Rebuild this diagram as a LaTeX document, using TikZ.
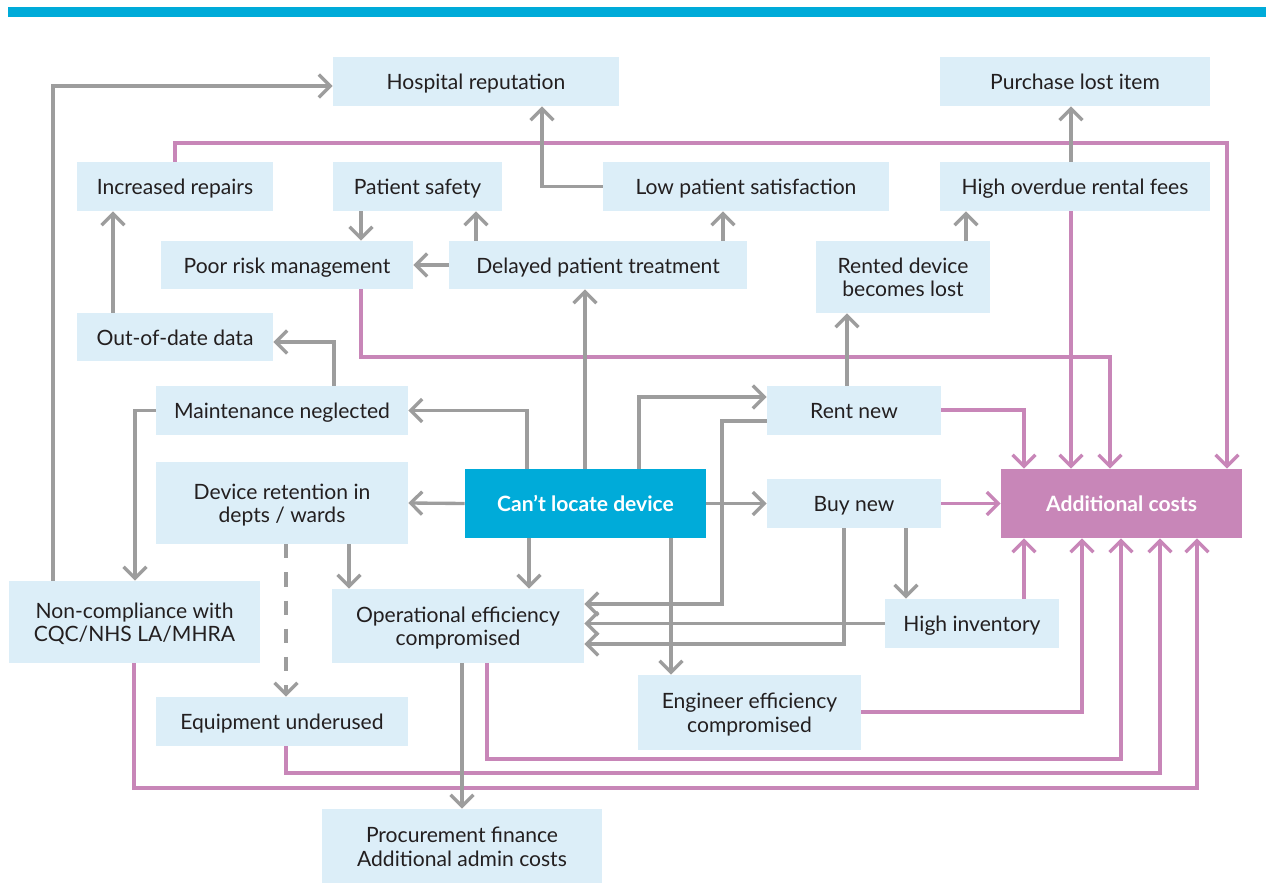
\documentclass[tikz,border=0pt]{standalone}
\usepackage{fontspec}
\setmainfont{Lato}
\usetikzlibrary{arrows.meta}
\definecolor{boxfill}{HTML}{DCEEF8}
\definecolor{cyanb}{HTML}{00ABD9}
\definecolor{pinkc}{HTML}{C886B8}
\definecolor{grayc}{HTML}{9D9D9D}
\definecolor{txt}{HTML}{231F20}
\newcommand\tx[1]{\raisebox{-2pt}[\height][\depth]{\begin{tabular}{@{}c@{}}#1\end{tabular}}}
\begin{document}
\begin{tikzpicture}[x=0.02cm,y=-0.02cm,
  box/.style={fill=boxfill, draw=none, inner sep=0pt, text=txt,
    font=\fontsize{12}{13.4}\selectfont},
  sz/.style 2 args={minimum width=#1*0.02cm, minimum height=#2*0.02cm},
  keybox/.style={box, text=white, font=\fontsize{12}{13.4}\selectfont\bfseries},
  gl/.style={draw=grayc, line width=1.9pt},
  ga/.style={gl, -{Straight Barb[length=6.5pt,width=13pt]}},
  pl/.style={draw=pinkc, line width=1.9pt},
  pa/.style={pl, -{Straight Barb[length=6.5pt,width=13pt]}}]
\useasboundingbox (0,0) rectangle (1266,884);
\fill[cyanb] (8,7) rectangle (1266,17);

\node[box, sz={286}{49}] (hosp) at (476,81.5) {\tx{Hospital reputation}};
\node[box, sz={270}{49}] (purch) at (1075,81.5) {\tx{Purchase lost item}};
\node[box, sz={196}{49}] (repairs) at (175,186.5) {\tx{Increased repairs}};
\node[box, sz={169}{49}] (safety) at (417.5,186.5) {\tx{Patient safety}};
\node[box, sz={286}{49}] (lowsat) at (746,186.5) {\tx{Low patient satisfaction}};
\node[box, sz={270}{49}] (overdue) at (1075,186.5) {\tx{High overdue rental fees}};
\node[box, sz={252}{48}] (poorrisk) at (287,265) {\tx{Poor risk management}};
\node[box, sz={298}{48}] (delayed) at (598,265) {\tx{Delayed patient treatment}};
\node[box, sz={174}{72}] (rented) at (903,277) {\tx{Rented device\\becomes lost}};
\node[box, sz={196}{48}] (outdate) at (175,337) {\tx{Out-of-date data}};
\node[box, sz={252}{49}] (maint) at (282,410.5) {\tx{Maintenance neglected}};
\node[box, sz={174}{49}] (rent) at (854,410.5) {\tx{Rent new}};
\node[box, sz={252}{82}] (retention) at (282,503) {\tx{Device retention in\\depts / wards}};
\node[keybox, fill=cyanb, sz={241}{69}] (cant) at (585.5,503.5) {\tx{Can’t locate device}};
\node[box, sz={174}{49}] (buy) at (854,503.5) {\tx{Buy new}};
\node[keybox, fill=pinkc, sz={241}{69}] (addl) at (1121.5,503.5) {\tx{Additional costs}};
\node[box, sz={251}{82}] (noncomp) at (134.5,622) {\tx{Non-compliance with\\CQC/NHS LA/MHRA}};
\node[box, sz={252}{74}] (opeff) at (458,626) {\tx{Operational efficiency\\compromised}};
\node[box, sz={174}{49}] (highinv) at (972,623.5) {\tx{High inventory}};
\node[box, sz={223}{75}] (engeff) at (749.5,712.5) {\tx{Engineer efficiency\\compromised}};
\node[box, sz={252}{49}] (underused) at (282,721.5) {\tx{Equipment underused}};
\node[box, sz={280}{74}] (procure) at (462,846) {\tx{Procurement finance\\Additional admin costs}};

% pink connectors
\draw[pa] (repairs.north) |- (1227,143) -- (addl.north -| 1227,0);
\draw[pa] (overdue.south -| 1071,0) -- (addl.north -| 1071,0);
\draw[pa] (poorrisk.south -| 361,0) |- (1110,357) -- (addl.north -| 1110,0);
\draw[pa] (rent.east |- 0,410) -| (addl.north -| 1024,0);
\draw[pa] (buy.east) -- (addl.west);
\draw[pa] (highinv.north -| 1024,0) -- (addl.south -| 1024,0);
\draw[pa] (engeff.east |- 0,712) -| (addl.south -| 1082,0);
\draw[pa] (opeff.south -| 487,0) |- (1121,759) -- (addl.south -| 1121,0);
\draw[pa] (underused.south -| 286,0) |- (1160,773) -- (addl.south -| 1160,0);
\draw[pa] (noncomp.south -| 134,0) |- (1197,788) -- (addl.south -| 1197,0);

% gray connectors
\draw[ga] (noncomp.north -| 53,0) |- (hosp.west |- 0,86);
\draw[ga] (lowsat.west) -| (hosp.south -| 542,0);
\draw[ga] (overdue.north -| 1071,0) -- (purch.south -| 1071,0);
\draw[ga] (safety.south -| 361,0) -- (poorrisk.north -| 361,0);
\draw[ga] (delayed.north -| 476,0) -- (safety.south -| 476,0);
\draw[ga] (delayed.west) -- (poorrisk.east);
\draw[ga] (delayed.north -| 723,0) -- (lowsat.south -| 723,0);
\draw[ga] (rented.north -| 966,0) -- (overdue.south -| 966,0);
\draw[ga] (outdate.north -| 113,0) -- (repairs.south -| 113,0);
\draw[ga] (maint.north -| 334,0) |- (outdate.east |- 0,342);
\draw[ga] (maint.west) -| (noncomp.north -| 135,0);
\draw[ga] (cant.north -| 527,0) |- (maint.east);
\draw[ga] (cant.north -| 585,0) -- (delayed.south -| 585,0);
\draw[ga] (cant.north -| 639,0) |- (rent.west |- 0,397);
\draw[ga] (rent.west |- 0,421) -| (722,604) -- (opeff.east |- 0,604);
\draw[ga] (cant.west) -- (retention.east);
\draw[ga] (cant.east) -- (buy.west);
\draw[ga] (rent.north -| 847,0) -- (rented.south -| 847,0);
\draw[ga] (buy.south -| 906,0) -- (highinv.north -| 906,0);
\draw[ga] (buy.south -| 844,0) |- (opeff.east |- 0,644);
\draw[ga] (highinv.west) -- (opeff.east |- 0,623.5);
\draw[ga] (cant.south -| 671,0) -- (engeff.north -| 671,0);
\draw[ga] (cant.south -| 529,0) -- (opeff.north -| 529,0);
\draw[ga] (retention.south -| 349,0) -- (opeff.north -| 349,0);
\draw[ga, dash pattern=on 8pt off 8pt] (retention.south -| 286,0) -- (underused.north -| 286,0);
\draw[ga] (opeff.south -| 462,0) -- (procure.north -| 462,0);
\end{tikzpicture}
\end{document}
